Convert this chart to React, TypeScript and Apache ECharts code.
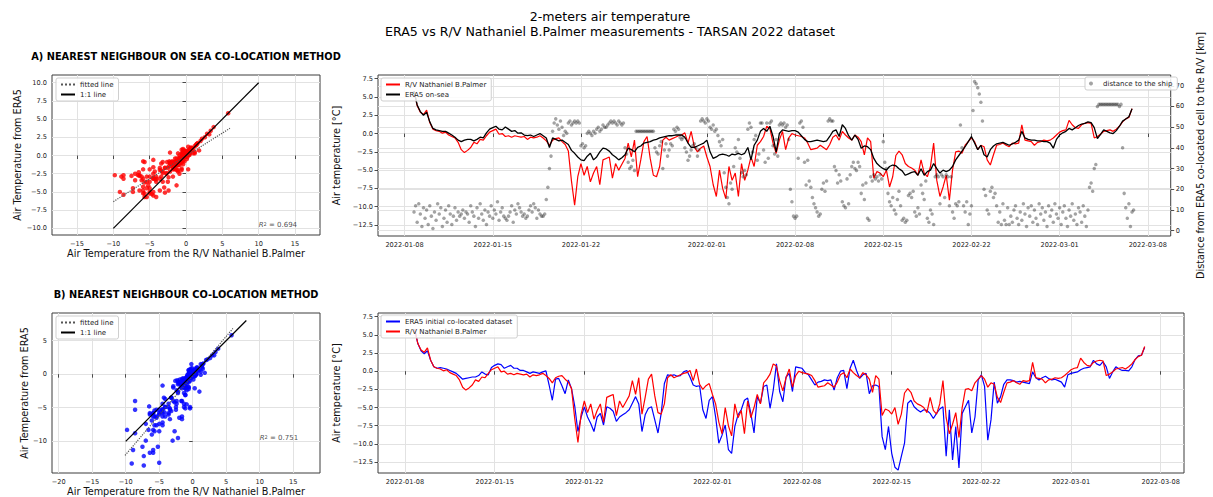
import React, { useEffect, useRef } from 'react';
import * as echarts from 'echarts';

// ---------------- DATA ----------------
// 6-hourly samples starting 2022-01-08 18:00 UTC
const tempStart = Date.UTC(2022, 0, 8, 18);
const tempStepH = 6;
// 3-hourly samples starting 2022-01-08 18:00 UTC
const distStart = Date.UTC(2022, 0, 8, 18);
const distStepH = 3;

// R/V Nathaniel B.Palmer air temperature [°C]
const shipTemp = [
  5.8,
  3.8, 2.9, 2.6, 3.2,
  1.5, 0.6, 0.4, 0.3,
  0.05, 0.2, -0.2, -0.4,
  -0.6, -1.2, -2.2, -2.6,
  -2.3, -1.9, -1.2, -1.4,
  -0.8, -0.9, -0.3, 0.2,
  0.4, 0.6, -0.1, 0,
  -0.4, -0.3, -0.5, -0.3,
  -0.4, -0.5, -0.4, -0.8,
  -0.5, -0.6, -0.5, -0.3,
  -0.6, -1.0, -1.6, -0.9,
  -0.7, -0.6, -1.1, -1.5,
  -2.4, -6.5, -9.8, -5.9,
  -4.1, -5.7, -4.5, -6.6,
  -5.4, -4.5, -7.0, -3.6,
  -3.4, -3.2, -6.1, -4.1,
  -5.0, -4.2, -3.4, -1.3,
  -3.2, -0.9, -5.9, -3.6,
  -1.1, -0.4, -3.4, -5.7,
  -5.9, -4.5, -0.9, -0.5,
  -0.9, -0.7, -0.5, -0.3,
  -0.2, 0.1, -1.3, 0.3,
  -1.8, -2.5, -2.0, -1.7,
  -3.2, -4.5, -7.0, -8.6,
  -5.0, -7.5, -8.9, -4.5,
  -6.4, -5.4, -8.6, -4.1,
  -6.4, -5.0, -3.2, -4.5,
  -1.6, -1.1, -0.4, 1.0,
  0.7, -1.3, -2.7, -0.9,
  0.3, -2.2, -0.6, 0,
  -0.2, -0.3, -0.4, -0.6,
  -1.3, -2.2, -2.1, -2.0,
  -1.6, -1.9, -2.2, -1.5,
  -0.5, -0.2, -0.9, 0.3,
  -0.2, -0.6, -0.9, -0.2,
  -0.5, -1.1, -2.9, -0.6,
  -1.1, -6.1, -5.2, -5.4,
  -5.9, -5.0, -7.3, -5.9,
  -3.0, -2.4, -2.9, -4.1,
  -4.5, -4.7, -5.0, -5.7,
  -3.6, -5.4, -5.9, -4.5,
  -1.3, -6.4, -8.6, -7.3,
  -5.7, -9.1, -5.0, -2.5,
  -2.4, -2.7, -1.6, -1.1,
  -0.6, -1.1, -2.2, -1.6,
  -1.8, -3.6, -4.3, -2.9,
  -1.6, -1.5, -1.3, -1.6,
  -1.8, -1.3, -1.4, -1.3,
  1.2, -0.9, -1.0, -1.1,
  -1.6, -1.2, -1.1, -0.9,
  -1.0, -0.9, -0.6, -0.2,
  0.2, 0.4, 0.5, 1.8,
  1.2, 0.8, 0.7, 1.2,
  1.4, 1.5, 1.4, -0.6,
  -0.4, -0.1, 0.3, 0.4,
  0.5, 0.3, 0.6, 1.0,
  1.6, 2.0, 2.2, 3.4,
];

// ERA5 on-sea co-located air temperature [°C]
const era5SeaTemp = [
  5.8,
  3.9, 3.0, 2.5, 2.9,
  1.6, 0.7, 0.5, 0.4,
  0.3, 0.3, 0.05, -0.2,
  -0.5, -0.9, -1.1, -0.9,
  -0.8, -0.8, -1.0, -0.8,
  -0.5, -0.6, 0.1, 0.6,
  0.8, 1.0, 0.6, 0.5,
  0.9, 0.6, 0.3, 0.4,
  0.05, 0.1, -0.2, -0.3,
  -0.2, -0.4, -0.2, 0,
  -0.3, -0.6, -1.9, -0.6,
  -0.8, -1.0, -0.9, -1.2,
  -1.5, -2.3, -2.7, -3.2,
  -3.6, -3.7, -3.1, -2.7,
  -3.6, -3.2, -2.5, -2.0,
  -2.1, -2.4, -2.9, -3.2,
  -3.6, -3.3, -2.9, -2.0,
  -2.2, -2.5, -1.9, -1.7,
  -1.3, -1.2, -1.1, -0.9,
  -0.8, -0.6, -0.5, -0.4,
  -0.3, -0.3, -0.2, -0.2,
  -0.2, -0.5, -1.3, -1.9,
  -1.9, -1.7, -1.5, -1.3,
  -0.9, -2.5, -3.4, -3.2,
  -2.9, -2.8, -2.9, -3.1,
  -2.8, -2.9, -2.7, -2.9,
  -2.7, -1.9, -3.6, -1.6,
  -0.9, 0.3, 0.7, 0.3,
  1.0, -0.4, -2.5, 0,
  0.5, 0.4, 0.3, 0.4,
  0.4, 0.2, -0.3, -0.8,
  -1.1, -1.1, -1.0, -0.9,
  -1.0, -1.1, -1.0, -0.4,
  0.3, 0.5, -0.4, 1.2,
  0.7, -0.3, -0.9, -0.2,
  -0.8, -2.0, -1.7, -1.8,
  -2.2, -3.4, -4.1, -4.5,
  -4.8, -5.0, -4.5, -4.3,
  -4.4, -4.8, -5.1, -5.7,
  -5.5, -5.3, -5.2, -5.7,
  -4.8, -5.7, -5.2, -5.0,
  -4.1, -4.8, -5.4, -5.0,
  -5.2, -5.0, -4.5, -3.6,
  -3.0, -2.4, -1.8, -1.1,
  -0.4, -1.3, -2.2, -1.6,
  -2.9, -3.2, -2.2, -1.7,
  -1.4, -1.3, -1.2, -1.4,
  -1.6, -1.4, -1.2, -0.9,
  0.3, -0.6, -0.8, -0.9,
  -0.9, -1.0, -1.0, -1.1,
  -1.1, -1.3, -2.0, -0.8,
  -0.2, 0.1, 0.3, 0.7,
  0.5, 0.8, 1.1, 1.3,
  1.4, 1.6, 1.5, 0.8,
  -0.7, -0.1, 0.5, 0.3,
  0.1, 0, 0.4, 1.0,
  1.7, 2.0, 2.3, 3.4,
];

// ERA5 initial co-located air temperature [°C]
const era5InitTemp = [
  5.8,
  3.8, 2.8, 2.4, 2.8,
  1.5, 0.6, 0.4, 0.5,
  0.4, 0.3, 0.1, -0.1,
  -0.3, -0.7, -1.1, -1.0,
  -0.9, -0.8, -0.8, -0.6,
  -0.1, -0.4, -0.5, 0.5,
  0.8, 1.0, 0.9, 0.4,
  0.6, 0.8, 0.4, 0.4,
  0.1, 0.1, -0.1, -0.3,
  -0.1, -0.2, -0.3, -0.1,
  0.05, -1.9, -4.0, -1.1,
  -1.0, -2.0, -3.1, -1.2,
  -2.4, -4.8, -8.3, -6.3,
  -4.9, -6.3, -7.2, -8.3,
  -6.3, -5.8, -7.4, -4.9,
  -5.1, -5.5, -6.9, -6.3,
  -6.0, -5.7, -5.3, -4.4,
  -3.5, -4.5, -8.3, -6.0,
  -5.1, -4.9, -6.7, -8.5,
  -5.8, -1.7, -0.5, -0.6,
  -0.5, -0.7, -0.6, -0.1,
  0.1, -0.8, -1.9, -2.1,
  -2.0, -5.3, -6.5, -4.0,
  -3.5, -6.3, -9.9, -8.8,
  -7.4, -10.8, -11.3, -7.6,
  -6.0, -5.3, -4.0, -3.7,
  -5.8, -8.5, -3.5, -4.4,
  -2.1, -1.9, -5.1, -2.6,
  1.0, -2.8, -4.2, -0.8,
  -0.3, -2.8, 0.6, 0.5,
  0.4, -0.2, -0.5, -1.2,
  -1.9, -1.5, -1.4, -1.2,
  -1.3, -1.2, -2.6, -0.9,
  0.0, 0.1, -2.4, 0.4,
  1.5, 0.1, -1.0, -0.5,
  -0.3, -3.1, -2.0, -1.9,
  -2.1, -9.0, -10.8, -7.6,
  -11.3, -13.2, -13.6, -11.7,
  -9.9, -4.4, -4.0, -4.9,
  -5.3, -5.6, -5.3, -5.4,
  -5.8, -6.5, -5.8, -5.2,
  -4.9, -11.7, -5.3, -12.2,
  -7.6, -13.3, -5.8, -4.9,
  -4.0, -8.5, -6.3, -1.2,
  -0.5, -2.1, -9.5, -6.7,
  -1.5, -4.4, -3.5, -1.8,
  -1.2, -1.2, -1.3, -1.5,
  -1.4, -1.5, -1.6, -1.7,
  -0.1, -0.9, -1.2, -0.9,
  -0.7, -1.0, -1.2, -1.1,
  -1.3, -1.5, -2.2, -0.5,
  -0.3, -0.2, -0.1, 0.2,
  0.4, 0.5, 0.6, 1.5,
  1.0, 0.8, 1.3, 0.6,
  -1.0, -0.1, 0.6, 0.3,
  0.1, 0.1, 0.05, 0.6,
  1.6, 2.1, 2.2, 3.3,
];

// distance from ERA5 co-located cell to the ship [km], 3-hourly
const distanceKm = [
  9, 12,
  4, 13, 8, 2, 11, 6, 10, 3,
  12, 7, 1, 9, 5, 13, 8, 11,
  2, 6, 10, 4, 12, 8, 3, 7,
  11, 5, 9, 7, 8, 10, 6, 9,
  8, 4, 12, 9, 7, 2, 11, 6,
  13, 8, 5, 10, 3, 9, 7, 12,
  6, 10, 8, 14, 5, 9, 11, 7,
  6, 5, 7, 9, 12, 4, 10, 8,
  13, 11, 9, 7, 8, 6, 7, 10,
  12, 9, 13, 11, 6, 10, 8, 7,
  7, 8, 15, 21, 30, 36, 48, 52,
  54, 51, 49, 53, 50, 46, 48, 47,
  52, 53, 51, 52, 53, 52, 53, 52,
  41, 42, 40, 41, 47, 48, 47, 46,
  48, 47, 49, 50, 48, 49, 51, 50,
  50, 51, 52, 53, 52, 53, 52, 51,
  53, 52, 51, 52, 40, 37, 33, 30,
  31, 34, 29, 48, 48, 48, 48, 48,
  48, 48, 48, 48, 48, 48, 48, 40,
  38, 37, 41, 43, 30, 39, 42, 36,
  39, 42, 41, 49, 48, 50, 49, 45,
  44, 45, 40, 38, 34, 36, 39, 41,
  42, 40, 36, 39, 53, 54, 53, 52,
  54, 53, 50, 49, 51, 48, 49, 46,
  43, 41, 44, 28, 21, 16, 13, 23,
  20, 31, 40, 38, 44, 35, 28, 26,
  29, 27, 49, 52, 50, 38, 44, 46,
  34, 37, 52, 52, 39, 33, 52, 35,
  52, 53, 41, 37, 44, 36, 51, 52,
  51, 52, 50, 51, 44, 20, 14, 7,
  6, 7, 35, 52, 53, 50, 33, 22,
  34, 24, 21, 16, 13, 11, 9, 7,
  8, 20, 23, 19, 24, 53, 54, 53,
  53, 31, 29, 23, 27, 24, 14, 12,
  11, 25, 13, 27, 31, 33, 30, 29,
  33, 31, 18, 22, 15, 23, 6, 5,
  26, 24, 27, 25, 26, 24, 27, 25,
  43, 33, 30, 18, 14, 12, 16, 10,
  8, 15, 19, 12, 5, 6, 4, 5,
  17, 18, 16, 19, 9, 7, 11, 8,
  22, 18, 15, 24, 6, 4, 10, 8,
  3, 26, 27, 26, 13, 27, 26, 16,
  27, 26, 12, 26, 9, 6, 13, 12,
  14, 51, 40, 12, 9, 14, 3, 8,
  12, 58, 72, 71, 69, 66, 62, 53,
  20, 17, 10, 8, 19, 21, 16, 18,
  12, 4, 9, 3, 13, 5, 3, 11,
  3, 7, 4, 10, 12, 6, 3, 9,
  5, 13, 8, 2, 11, 7, 12, 4,
  10, 6, 3, 13, 8, 11, 5, 9,
  2, 12, 7, 10, 4, 13, 8, 6,
  11, 3, 9, 12, 6, 2, 10, 7,
  13, 5, 8, 3, 11, 9, 4, 12,
  7, 2, 10, 21, 23, 19, 30, 32,
  60, 61, 61, 61, 61, 61, 61, 61,
  61, 61, 61, 61, 61, 61, 60, 61,
  40, 18, 11, 6, 13, 2, 9, 10,
];

// regression / reference lines
const oneToOneA = [[-10, -10], [10, 10]];
const fittedA = [[-10, -6.34], [6.05, 3.74]];
const oneToOneB = [[-10, -10], [8, 8]];
const fittedB = [[-10.1, -12.1], [6.0, 6.8]];
const r2A = '0.694';
const r2B = '0.751';
const r2Anchor = [10, -10];

// ticks
const dateTicks = ['2022-01-08', '2022-01-15', '2022-01-22', '2022-02-01', '2022-02-08', '2022-02-15', '2022-02-22', '2022-03-01', '2022-03-08'];
const tempTicks = [-12.5, -10, -7.5, -5, -2.5, 0, 2.5, 5, 7.5];
const distTicks = [0, 10, 20, 30, 40, 50, 60, 70];
const scatAXTicks = [-15, -10, -5, 0, 5, 10, 15];
const scatAYTicks = [-10, -7.5, -5, -2.5, 0, 2.5, 5, 7.5, 10];
const scatBXTicks = [-20, -15, -10, -5, 0, 5, 10, 15];
const scatBYTicks = [-10, -5, 0, 5];

// ---------------- STYLE ----------------
const FONT = 'DejaVu Sans';
const TICK_FS = 6.6;
const NAME_FS = 9.7;
const GRID_C = '#e2e2e2';
const DAY = 86400000;
const T0 = Date.UTC(2022, 0, 8);

const minus = (v: number, d: number) => (v < -1e-9 ? '\u2212' : '') + Math.abs(v).toFixed(d);

function axis(ticks: number[], fmt: (v: number) => string, extra: any) {
  return {
    type: 'value',
    axisLine: { show: false },
    axisTick: { show: true, length: 3.5, customValues: ticks, lineStyle: { color: '#222', width: 0.8 } },
    axisLabel: { customValues: ticks, formatter: (v: number) => fmt(v), fontSize: TICK_FS, fontFamily: FONT, color: '#222', margin: 5 },
    splitLine: { show: true, lineStyle: { color: GRID_C, width: 1 } },
    nameLocation: 'middle',
    nameTextStyle: { fontSize: NAME_FS, fontFamily: FONT, color: '#111' },
    ...extra,
  };
}

const legendBase = {
  orient: 'vertical',
  backgroundColor: 'rgba(255,255,255,0.85)',
  borderColor: '#cfcfcf',
  borderWidth: 1,
  borderRadius: 2,
  padding: [3, 5, 3, 4],
  itemGap: 3,
  itemWidth: 14,
  itemHeight: 7,
  selectedMode: false,
  itemStyle: { opacity: 0 },
  textStyle: { fontSize: 7, fontFamily: FONT, color: '#222' },
};

export default function App() {
  const ref = useRef<HTMLDivElement>(null);

  useEffect(() => {
    if (!ref.current) return;
    const chart = echarts.init(ref.current, undefined, { renderer: 'svg' });

    const tTime = (i: number) => tempStart + i * tempStepH * 3600000;
    const dTime = (i: number) => distStart + i * distStepH * 3600000;
    const shipSeries = shipTemp.map((v, i) => [tTime(i), v]);
    const seaSeries = era5SeaTemp.map((v, i) => [tTime(i), v]);
    const initSeries = era5InitTemp.map((v, i) => [tTime(i), v]);
    const distSeries = distanceKm.map((v, i) => [dTime(i), v]);
    const scatterA = shipTemp.map((v, i) => [v, era5SeaTemp[i]]);
    const scatterB = shipTemp.map((v, i) => [v, era5InitTemp[i]]);
    const dateTickValues = dateTicks.map((s) => Date.parse(s + 'T00:00:00Z'));
    const fmtDate = (v: number) => new Date(v).toISOString().slice(0, 10);

    const r2Label = (val: string) => ({
      show: true,
      position: 'right',
      distance: 0,
      offset: [0, -3],
      formatter: '{i|R}{s|2}{n| = ' + val + '}',
      rich: {
        i: { fontSize: 7, fontFamily: FONT, fontStyle: 'italic', color: '#222' },
        s: { fontSize: 5, fontFamily: FONT, color: '#222', verticalAlign: 'top', padding: [0, 0, 3, 0] },
        n: { fontSize: 7, fontFamily: FONT, color: '#222' },
      },
    });

    const gridBase = { show: true, borderColor: '#3c3c3c', borderWidth: 1, backgroundColor: 'transparent', containLabel: false };

    const option: any = {
      animation: false,
      backgroundColor: '#ffffff',
      grid: [
        { ...gridBase, left: 52, top: 75, width: 268, height: 160 },
        { ...gridBase, left: 52, top: 313, width: 268, height: 160 },
        { ...gridBase, left: 378, top: 75, width: 806, height: 161 },
        { ...gridBase, left: 378, top: 313, width: 806, height: 160 },
      ],
      xAxis: [
        axis(scatAXTicks, (v) => minus(v, 0), { gridIndex: 0, min: -18.44, max: 18.44, name: 'Air Temperature from the R/V Nathaniel B.Palmer', nameGap: 13 }),
        axis(scatBXTicks, (v) => minus(v, 0), { gridIndex: 1, min: -21, max: 19, name: 'Air Temperature from the R/V Nathaniel B.Palmer', nameGap: 13 }),
        axis(dateTickValues, fmtDate, { gridIndex: 2, min: T0 - 2.11 * DAY, max: T0 + 60.82 * DAY }),
        axis(dateTickValues, fmtDate, { gridIndex: 3, min: T0 - 2.11 * DAY, max: T0 + 60.82 * DAY }),
      ],
      yAxis: [
        axis(scatAYTicks, (v) => minus(v, 1), { gridIndex: 0, min: -10.92, max: 11.06, name: 'Air Temperature from ERA5', nameGap: 29, nameRotate: 90 }),
        axis(scatBYTicks, (v) => minus(v, 0), { gridIndex: 1, min: -14.72, max: 9.11, name: 'Air Temperature from ERA5', nameGap: 23, nameRotate: 90 }),
        axis(tempTicks, (v) => minus(v, 1), { gridIndex: 2, min: -14.0, max: 8.0, name: 'Air temperature [°C]', nameGap: 30, nameRotate: 90 }),
        axis(distTicks, (v) => minus(v, 0), { gridIndex: 2, position: 'right', min: -2.6, max: 75.2, name: 'Distance from ERA5 co-located cell to the R/V [km]', nameGap: 13, nameRotate: 90 }),
        axis(tempTicks, (v) => minus(v, 1), { gridIndex: 3, min: -14.0, max: 8.0, name: 'Air temperature [°C]', nameGap: 30, nameRotate: 90 }),
      ],
      legend: [
        { ...legendBase, left: 56, top: 78, data: ['fitted line', '1:1 line'] },
        { ...legendBase, left: 56, top: 316, data: ['fitted line', '1:1 line'] },
        { ...legendBase, left: 381, top: 78, data: ['R/V Nathaniel B.Palmer', 'ERA5 on-sea'] },
        { ...legendBase, left: 1085, top: 77, itemHeight: 4, itemStyle: { color: 'rgba(0,0,0,0.45)' }, data: ['distance to the ship'] },
        { ...legendBase, left: 381, top: 315, data: ['ERA5 initial co-located dataset', 'R/V Nathaniel B.Palmer'] },
      ],
      graphic: [
        { type: 'text', x: 610, y: 16, silent: true, style: { text: '2-meters air temperature', fontSize: 12.6, fontFamily: FONT, fill: '#000', align: 'center', verticalAlign: 'middle' } },
        { type: 'text', x: 610, y: 31, silent: true, style: { text: 'ERA5 vs R/V Nathaniel B.Palmer measurements - TARSAN 2022 dataset', fontSize: 12.6, fontFamily: FONT, fill: '#000', align: 'center', verticalAlign: 'middle' } },
        { type: 'text', x: 186, y: 56, silent: true, style: { text: 'A) NEAREST NEIGHBOUR ON SEA CO-LOCATION METHOD', fontSize: 9.8, fontWeight: 'bold', fontFamily: FONT, fill: '#000', align: 'center', verticalAlign: 'middle' } },
        { type: 'text', x: 186, y: 294, silent: true, style: { text: 'B) NEAREST NEIGHBOUR CO-LOCATION METHOD', fontSize: 9.8, fontWeight: 'bold', fontFamily: FONT, fill: '#000', align: 'center', verticalAlign: 'middle' } },
      ],
      series: [
        // ---- scatter A
        { type: 'scatter', name: 'ship vs ERA5 on-sea', xAxisIndex: 0, yAxisIndex: 0, data: scatterA, symbolSize: 4.5, itemStyle: { color: '#ff0000' }, silent: true, z: 2 },
        { type: 'line', name: 'fitted line', xAxisIndex: 0, yAxisIndex: 0, data: fittedA, symbol: 'none', color: '#555555', lineStyle: { color: '#555555', width: 1.2, type: 'dotted' }, silent: true, z: 3 },
        { type: 'line', name: '1:1 line', xAxisIndex: 0, yAxisIndex: 0, data: oneToOneA, symbol: 'none', color: '#000000', lineStyle: { color: '#000000', width: 1.2 }, silent: true, z: 3 },
        { type: 'scatter', name: 'r2A', xAxisIndex: 0, yAxisIndex: 0, data: [r2Anchor], symbolSize: 0, silent: true, label: r2Label(r2A), z: 4 },
        // ---- scatter B
        { type: 'scatter', name: 'ship vs ERA5 initial', xAxisIndex: 1, yAxisIndex: 1, data: scatterB, symbolSize: 4.5, itemStyle: { color: '#0000ff' }, silent: true, z: 2 },
        { type: 'line', name: 'fitted line', xAxisIndex: 1, yAxisIndex: 1, data: fittedB, symbol: 'none', color: '#555555', lineStyle: { color: '#555555', width: 1.2, type: 'dotted' }, silent: true, z: 3 },
        { type: 'line', name: '1:1 line', xAxisIndex: 1, yAxisIndex: 1, data: oneToOneB, symbol: 'none', color: '#000000', lineStyle: { color: '#000000', width: 1.2 }, silent: true, z: 3 },
        { type: 'scatter', name: 'r2B', xAxisIndex: 1, yAxisIndex: 1, data: [r2Anchor], symbolSize: 0, silent: true, label: r2Label(r2B), z: 4 },
        // ---- time series A
        { type: 'line', name: 'R/V Nathaniel B.Palmer', xAxisIndex: 2, yAxisIndex: 2, data: shipSeries, symbol: 'none', color: '#ff0000', lineStyle: { color: '#ff0000', width: 1.2 }, silent: true, z: 2 },
        { type: 'line', name: 'ERA5 on-sea', xAxisIndex: 2, yAxisIndex: 2, data: seaSeries, symbol: 'none', color: '#000000', lineStyle: { color: '#000000', width: 1.3 }, silent: true, z: 2 },
        { type: 'scatter', name: 'distance to the ship', xAxisIndex: 2, yAxisIndex: 3, data: distSeries, symbolSize: 3.5, color: 'rgba(0,0,0,0.45)', itemStyle: { color: 'rgba(0,0,0,0.45)' }, silent: true, z: 3 },
        // ---- time series B
        { type: 'line', name: 'ERA5 initial co-located dataset', xAxisIndex: 3, yAxisIndex: 4, data: initSeries, symbol: 'none', color: '#0000ff', lineStyle: { color: '#0000ff', width: 1.2 }, silent: true, z: 2 },
        { type: 'line', name: 'R/V Nathaniel B.Palmer', xAxisIndex: 3, yAxisIndex: 4, data: shipSeries, symbol: 'none', color: '#ff0000', lineStyle: { color: '#ff0000', width: 1.2 }, silent: true, z: 2 },
      ],
    };

    chart.setOption(option);
    return () => chart.dispose();
  }, []);

  return <div ref={ref} style={{ position: 'fixed', left: 0, top: 0, width: 1213, height: 497 }} />;
}
